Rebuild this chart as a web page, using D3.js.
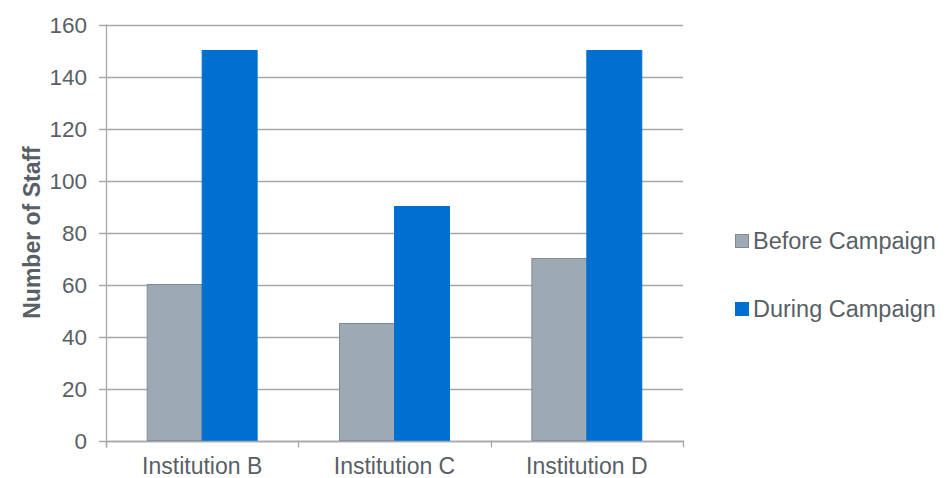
<!DOCTYPE html>
<html>
<head>
<meta charset="utf-8">
<script src="https://cdn.jsdelivr.net/npm/d3@7"></script>
<style>
  body { margin: 0; background: #fff; }
  text { font-family: "Liberation Sans", Arial, sans-serif; fill: #595f66; }
</style>
</head>
<body>
<script>
const categories = ["Institution B", "Institution C", "Institution D"];
const seriesNames = ["Before Campaign", "During Campaign"];
const beforeValues = [60, 45, 70];
const duringValues = [150, 90, 150];
const yTicks = [0, 20, 40, 60, 80, 100, 120, 140, 160];

const width = 947, height = 478;
const plotLeft = 106, plotRight = 683, plotTop = 24.5, plotBottom = 440.5;

const svg = d3.select("body").append("svg")
    .attr("width", width)
    .attr("height", height);

const x = d3.scaleBand()
    .domain(categories)
    .range([plotLeft, plotRight])
    .paddingInner(0)
    .paddingOuter(0);

const x1 = d3.scaleBand()
    .domain(seriesNames)
    .range([0, x.bandwidth()])
    .paddingInner(0)
    .paddingOuter(0.75);

const y = d3.scaleLinear()
    .domain([0, 160])
    .range([plotBottom, plotTop]);

const colors = {"Before Campaign": "#9eaab3", "During Campaign": "#0070d0"};
const strokes = {"Before Campaign": "#7d8a94", "During Campaign": "#0070d0"};

// gridlines
svg.append("g")
    .selectAll("line")
    .data(yTicks)
    .join("line")
    .attr("x1", plotLeft - 7)
    .attr("x2", plotRight)
    .attr("y1", d => Math.round(y(d)) + 0.5)
    .attr("y2", d => Math.round(y(d)) + 0.5)
    .attr("stroke", "#a6a8aa")
    .attr("stroke-width", 1.3);

// y tick labels
svg.append("g")
    .selectAll("text")
    .data(yTicks)
    .join("text")
    .attr("x", 87)
    .attr("y", d => y(d))
    .attr("dy", "0.36em")
    .attr("text-anchor", "end")
    .style("font-size", "22.5px")
    .text(d => d);

// bars
const rows = categories.map((c, i) => ({cat: c, vals: [beforeValues[i], duringValues[i]]}));
const groups = svg.append("g")
    .selectAll("g")
    .data(rows)
    .join("g")
    .attr("transform", d => `translate(${x(d.cat)},0)`);

groups.selectAll("rect")
    .data(d => d.vals.map((v, j) => ({name: seriesNames[j], value: v})))
    .join("rect")
    .attr("x", d => x1(d.name))
    .attr("width", x1.bandwidth())
    .attr("y", d => y(d.value))
    .attr("height", d => y(0) - y(d.value))
    .attr("fill", d => colors[d.name])
    .attr("stroke", d => strokes[d.name])
    .attr("stroke-width", 1);

// axes lines
svg.append("line")
    .attr("x1", plotLeft + 0.5).attr("x2", plotLeft + 0.5)
    .attr("y1", plotTop).attr("y2", plotBottom + 7)
    .attr("stroke", "#a6a8aa").attr("stroke-width", 1.3);

svg.append("line")
    .attr("x1", plotLeft).attr("x2", plotRight + 0.5)
    .attr("y1", Math.round(y(0)) + 0.5).attr("y2", Math.round(y(0)) + 0.5)
    .attr("stroke", "#a6a8aa").attr("stroke-width", 1.3);

// x ticks at category boundaries
const boundaries = categories.map(c => x(c)).concat([x(categories[categories.length - 1]) + x.bandwidth()]);
svg.append("g")
    .selectAll("line")
    .data(boundaries)
    .join("line")
    .attr("x1", d => Math.round(d) + 0.5)
    .attr("x2", d => Math.round(d) + 0.5)
    .attr("y1", plotBottom)
    .attr("y2", plotBottom + 7)
    .attr("stroke", "#a6a8aa")
    .attr("stroke-width", 1.3);

// x labels
svg.append("g")
    .selectAll("text")
    .data(categories)
    .join("text")
    .attr("x", d => x(d) + x.bandwidth() / 2)
    .attr("y", 474)
    .attr("text-anchor", "middle")
    .style("font-size", "23px")
    .text(d => d);

// y axis title
svg.append("text")
    .attr("transform", `translate(40,${(plotTop + plotBottom) / 2}) rotate(-90)`)
    .attr("text-anchor", "middle")
    .style("font-size", "23px")
    .style("font-weight", "bold")
    .text("Number of Staff");

// legend
const legend = svg.append("g")
    .selectAll("g")
    .data(seriesNames)
    .join("g")
    .attr("transform", (d, i) => `translate(735,${241 + i * 68})`);

legend.append("rect")
    .attr("x", 0.5)
    .attr("y", -6.5)
    .attr("width", 13)
    .attr("height", 13)
    .attr("fill", d => colors[d])
    .attr("stroke", d => strokes[d]);

legend.append("text")
    .attr("x", 18)
    .attr("y", 0)
    .attr("dy", "0.36em")
    .style("font-size", "23.5px")
    .text(d => d);
</script>
</body>
</html>
